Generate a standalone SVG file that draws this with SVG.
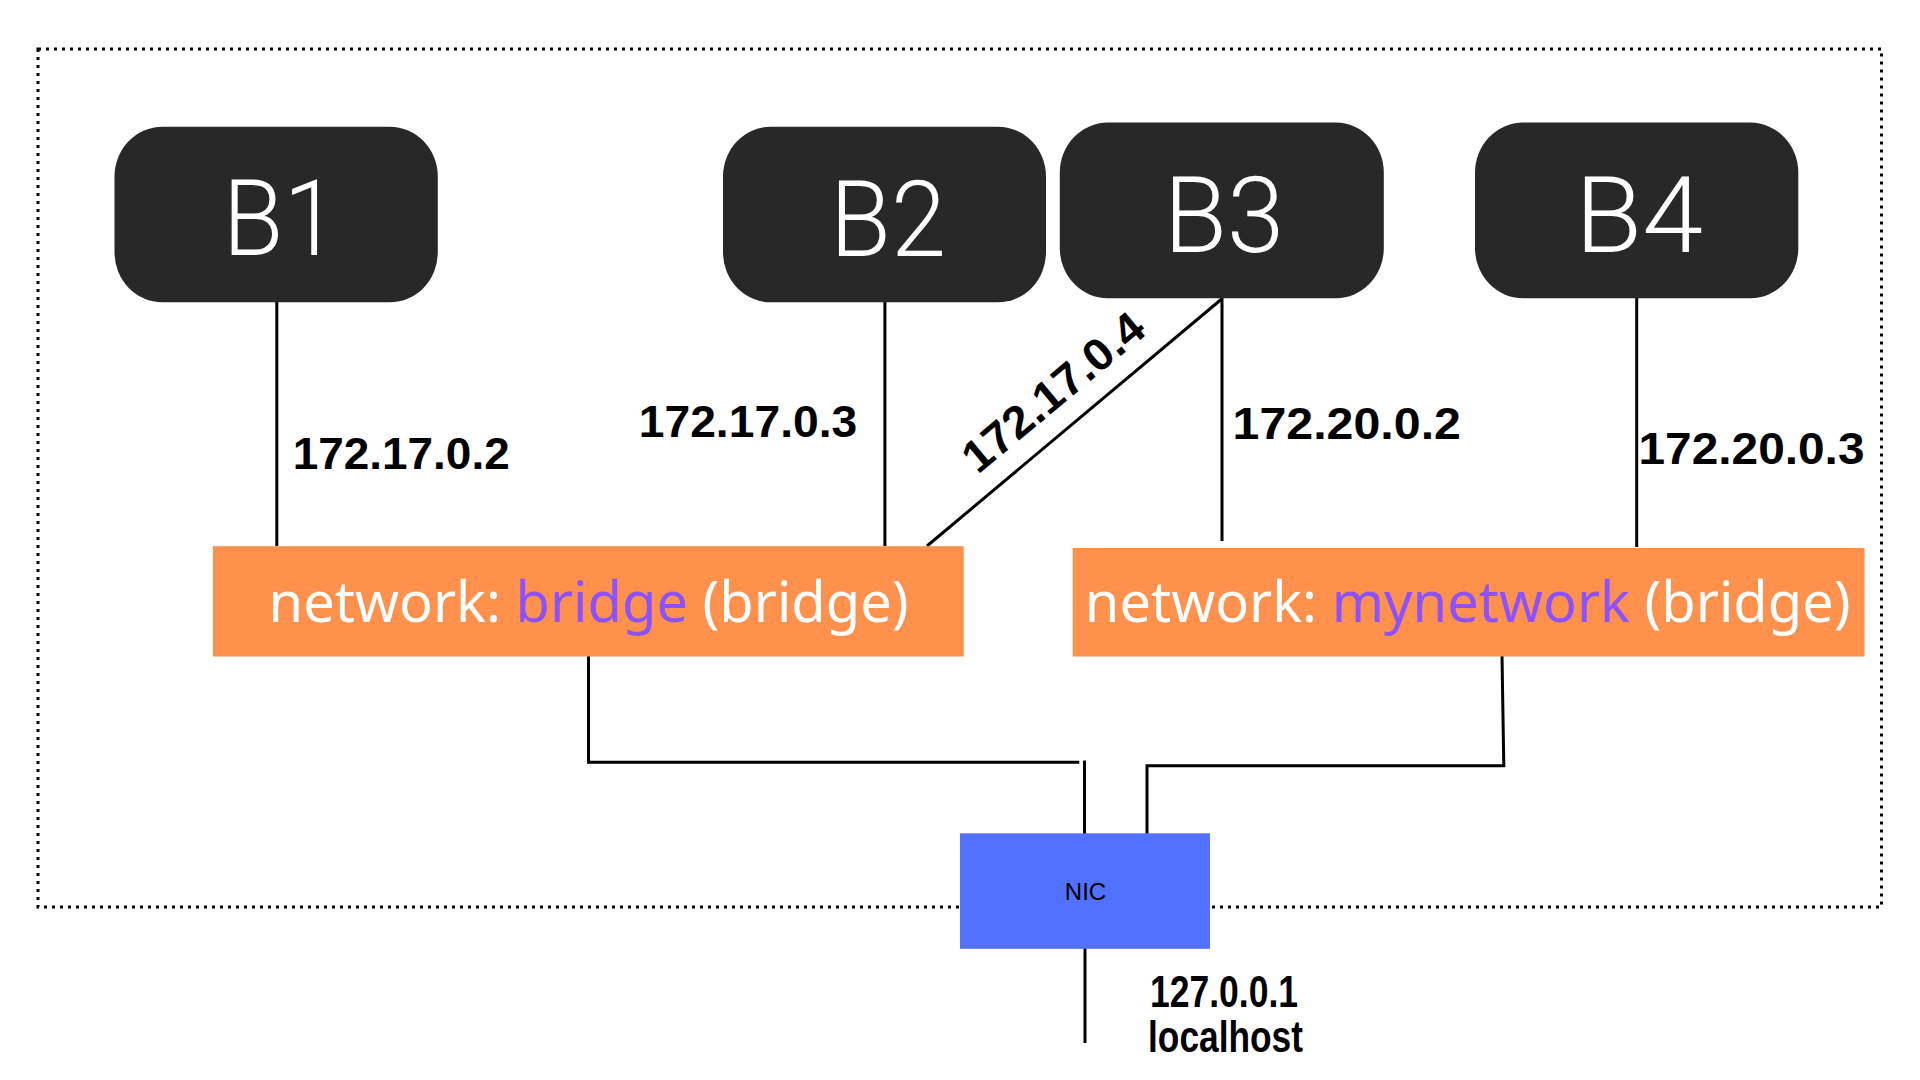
<svg xmlns="http://www.w3.org/2000/svg" width="1920" height="1080" viewBox="0 0 1920 1080">
  <style>
    .node { fill: #282828; }
    .ntext { font-family: Roboto, "DejaVu Sans", sans-serif; font-weight: 300; font-size: 106px; fill: #ffffff; text-anchor: middle; }
    .net { fill: #FF914D; }
    .nettext { font-family: "Noto Sans", "Open Sans", sans-serif; font-size: 56px; fill: #ffffff; text-anchor: middle; }
    .hl { fill: #8C52FF; }
    .ip { font-family: "Liberation Sans", Arial, sans-serif; font-weight: bold; font-size: 45px; fill: #000000; }
    .conn { stroke: #000000; stroke-width: 3; fill: none; }
  </style>
  <rect width="1920" height="1080" fill="#ffffff"/>
  <rect id="boundary" x="38" y="49" width="1843.5" height="858" fill="none" stroke="#000000" stroke-width="3" stroke-dasharray="3 5"/>

  <g id="connectors">
    <line class="conn" x1="276.8" y1="302" x2="276.8" y2="546"/>
    <line class="conn" x1="884.9" y1="302" x2="884.9" y2="546"/>
    <line class="conn" x1="1221.7" y1="299" x2="927" y2="546"/>
    <line class="conn" x1="1222" y1="298" x2="1222" y2="541"/>
    <line class="conn" x1="1636.7" y1="298" x2="1636.7" y2="547"/>
    <polyline class="conn" points="588.5,656 588.5,762.3 1079.3,762.3"/>
    <line class="conn" x1="1084.5" y1="760.5" x2="1084.5" y2="834"/>
    <polyline class="conn" points="1502,656 1503.8,765.7 1147,765.7 1147,834"/>
    <line class="conn" x1="1085" y1="948" x2="1085" y2="1043"/>
  </g>

  <g id="B1">
    <rect class="node" x="114.5" y="126.7" width="323.3" height="175.6" rx="48" ry="50"/>
    <text class="ntext" x="280.5" y="255" textLength="115.6" lengthAdjust="spacingAndGlyphs">B1</text>
  </g>
  <g id="B2">
    <rect class="node" x="723" y="126.7" width="323" height="175.6" rx="48" ry="50"/>
    <text class="ntext" x="888" y="256" textLength="116" lengthAdjust="spacingAndGlyphs">B2</text>
  </g>
  <g id="B3">
    <rect class="node" x="1059.8" y="122.6" width="324" height="175.6" rx="48" ry="50"/>
    <text class="ntext" x="1224" y="252.4" textLength="120.5" lengthAdjust="spacingAndGlyphs">B3</text>
  </g>
  <g id="B4">
    <rect class="node" x="1475" y="122.6" width="323.3" height="175.6" rx="48" ry="50"/>
    <text class="ntext" x="1639" y="252.4" textLength="128" lengthAdjust="spacingAndGlyphs">B4</text>
  </g>

  <g id="net-bridge">
    <rect class="net" x="213" y="546.2" width="750.7" height="110.3"/>
    <text class="nettext" x="588.6" y="621.7">network: <tspan class="hl">bridge</tspan> (bridge)</text>
  </g>
  <g id="net-mynetwork">
    <rect class="net" x="1072.7" y="548" width="791.8" height="108.5"/>
    <text class="nettext" x="1467.7" y="622">network: <tspan class="hl">mynetwork</tspan> (bridge)</text>
  </g>

  <g id="NIC">
    <rect x="960" y="833.3" width="250" height="115.5" fill="#5271FF"/>
    <text x="1085.5" y="900" font-family="Liberation Sans, Arial, sans-serif" font-size="24" fill="#000000" text-anchor="middle">NIC</text>
  </g>

  <g id="labels">
    <text class="ip" x="292.7" y="469" textLength="217" lengthAdjust="spacingAndGlyphs">172.17.0.2</text>
    <text class="ip" x="638.7" y="437.3" textLength="218.6" lengthAdjust="spacingAndGlyphs">172.17.0.3</text>
    <text class="ip" x="1232.5" y="439" textLength="228.5" lengthAdjust="spacingAndGlyphs">172.20.0.2</text>
    <text class="ip" x="1638.5" y="464.2" textLength="226" lengthAdjust="spacingAndGlyphs">172.20.0.3</text>
    <text class="ip" x="1063" y="404" text-anchor="middle" transform="rotate(-39.8 1063 404)" textLength="222" lengthAdjust="spacingAndGlyphs">172.17.0.4</text>
    <text class="ip" x="1150" y="1006.5" font-size="33" textLength="148" lengthAdjust="spacingAndGlyphs">127.0.0.1</text>
    <text class="ip" x="1148" y="1051.7" font-size="33" textLength="155" lengthAdjust="spacingAndGlyphs">localhost</text>
  </g>
</svg>
